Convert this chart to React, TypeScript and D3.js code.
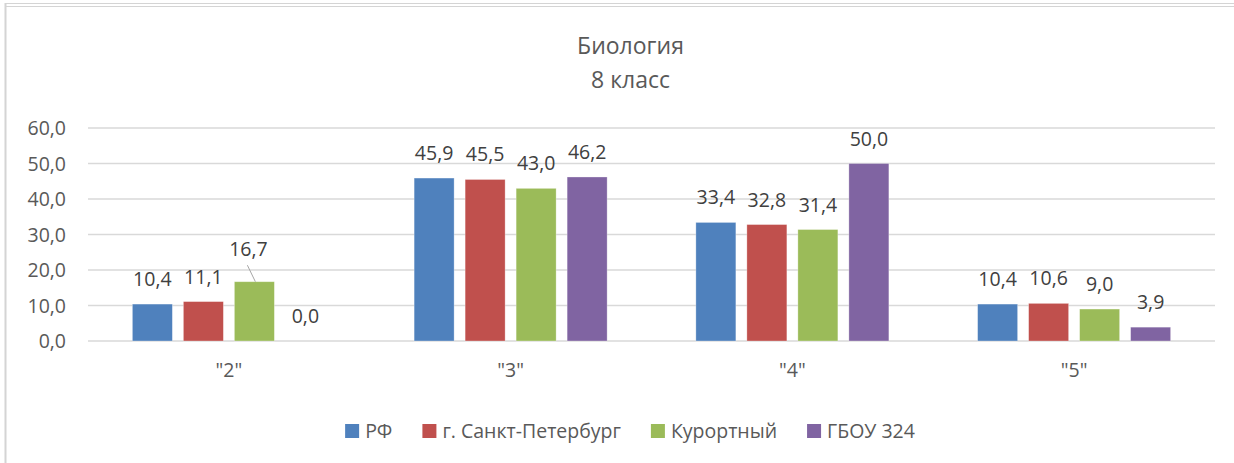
import React, { useEffect, useRef } from 'react';
import * as d3 from 'd3';

const categories = ['"2"', '"3"', '"4"', '"5"'];
const seriesNames = ['РФ', 'г. Санкт-Петербург', 'Курортный', 'ГБОУ 324'];
const seriesColors = ['#4F81BD', '#C0504D', '#9BBB59', '#8064A2'];
const rfValues = [10.4, 45.9, 33.4, 10.4];
const spbValues = [11.1, 45.5, 32.8, 10.6];
const kurortValues = [16.7, 43.0, 31.4, 9.0];
const schoolValues = [0.0, 46.2, 50.0, 3.9];
const yTicks = [0, 10, 20, 30, 40, 50, 60];
const titleLines = ['Биология', '8 класс'];

const allSeries = [rfValues, spbValues, kurortValues, schoolValues];
const fmt = (v: number) => v.toFixed(1).replace('.', ',');

const App = () => {
  const ref = useRef<SVGSVGElement>(null);

  useEffect(() => {
    document.body.style.margin = '0';
    const width = 1234, height = 463;
    const margin = { top: 128, right: 19, bottom: 122, left: 88 };
    const font = '"Open Sans", "Noto Sans", sans-serif';
    const textColor = '#595959';
    const fs = 19.5;

    const svg = d3.select(ref.current);
    svg.selectAll('*').remove();

    // frame lines of the surrounding sheet
    svg.append('rect').attr('x', 0).attr('y', 0).attr('width', width).attr('height', height).attr('fill', '#fff');
    svg.append('line').attr('x1', 5.5).attr('x2', width).attr('y1', 3.5).attr('y2', 3.5).attr('stroke', '#d4d4d4');
    svg.append('line').attr('x1', 5.5).attr('x2', width).attr('y1', 6.5).attr('y2', 6.5).attr('stroke', '#d4d4d4');
    svg.append('line').attr('x1', 5.5).attr('x2', 5.5).attr('y1', 3).attr('y2', height).attr('stroke', '#d4d4d4').attr('stroke-width', 2);

    const x0 = d3.scaleBand<string>()
      .domain(categories)
      .range([margin.left, width - margin.right]);
    const x1 = d3.scaleBand<string>()
      .domain(seriesNames)
      .range([0, x0.bandwidth()])
      .paddingInner(0.216)
      .paddingOuter(0.87);
    const y = d3.scaleLinear()
      .domain([0, 60])
      .range([height - margin.bottom, margin.top]);

    // title
    titleLines.forEach((t, i) => {
      svg.append('text')
        .attr('x', 630.5)
        .attr('y', 54 + i * 33.5)
        .attr('text-anchor', 'middle')
        .attr('font-family', font)
        .attr('font-size', 23)
        .attr('fill', textColor)
        .text(t);
    });

    // gridlines
    svg.append('g')
      .selectAll('line')
      .data(yTicks)
      .join('line')
      .attr('x1', margin.left)
      .attr('x2', width - margin.right)
      .attr('y1', d => y(d))
      .attr('y2', d => y(d))
      .attr('stroke', '#d9d9d9')
      .attr('stroke-width', 1.5);

    // y tick labels
    svg.append('g')
      .selectAll('text')
      .data(yTicks)
      .join('text')
      .attr('x', 66)
      .attr('y', d => y(d))
      .attr('dy', '0.36em')
      .attr('text-anchor', 'end')
      .attr('font-family', font)
      .attr('font-size', fs)
      .attr('fill', textColor)
      .text(d => fmt(d));

    // bars
    const groups = svg.append('g')
      .selectAll('g')
      .data(categories)
      .join('g')
      .attr('transform', d => `translate(${x0(d)},0)`);

    groups.selectAll('rect')
      .data((_, ci) => allSeries.map((vals, si) => ({ name: seriesNames[si], color: seriesColors[si], v: vals[ci] })))
      .join('rect')
      .attr('x', d => x1(d.name)!)
      .attr('width', x1.bandwidth())
      .attr('y', d => y(d.v))
      .attr('height', d => y(0) - y(d.v))
      .attr('fill', d => d.color)
      .attr('stroke', '#fff')
      .attr('stroke-opacity', 0.4)
      .attr('stroke-width', 0.75);

    // data labels
    groups.selectAll('text')
      .data((_, ci) => allSeries.map((vals, si) => ({ name: seriesNames[si], v: vals[ci], ci, si })))
      .join('text')
      .attr('x', d => x1(d.name)! + x1.bandwidth() / 2 + (d.ci === 0 && d.si === 2 ? -6 : 0))
      .attr('y', d => y(d.v) - (d.ci === 0 && d.si === 2 ? 25.5 : 18))
      .attr('text-anchor', 'middle')
      .attr('font-family', font)
      .attr('font-size', fs)
      .attr('fill', '#404040')
      .text(d => fmt(d.v));

    // leader line for the moved label
    const moved = groups.filter((_, i) => i === 0);
    moved.append('line')
      .attr('x1', x1(seriesNames[2])! + x1.bandwidth() / 2 - 7)
      .attr('y1', y(kurortValues[0]) - 16.5)
      .attr('x2', x1(seriesNames[2])! + x1.bandwidth() / 2 + 1)
      .attr('y2', y(kurortValues[0]))
      .attr('stroke', '#a6a6a6')
      .attr('stroke-width', 1);

    // category labels
    svg.append('g')
      .selectAll('text')
      .data(categories)
      .join('text')
      .attr('x', d => x0(d)! + x0.bandwidth() / 2)
      .attr('y', 377)
      .attr('text-anchor', 'middle')
      .attr('font-family', font)
      .attr('font-size', fs)
      .attr('fill', textColor)
      .text(d => d);

    // legend
    const legend = svg.append('g');
    let cx = 0;
    seriesNames.forEach((name, i) => {
      const item = legend.append('g').attr('transform', `translate(${cx},0)`);
      item.append('rect')
        .attr('x', 0).attr('y', -14).attr('width', 14).attr('height', 14)
        .attr('fill', seriesColors[i]);
      const t = item.append('text')
        .attr('x', 20)
        .attr('y', 0)
        .attr('font-family', font)
        .attr('font-size', fs)
        .attr('fill', textColor)
        .text(name);
      const w = (t.node() as SVGTextElement).getComputedTextLength();
      cx += 20 + w + 30;
    });
    const total = cx - 30;
    legend.attr('transform', `translate(${630 - total / 2},438)`);
  }, []);

  return <svg ref={ref} width={1234} height={463} style={{ display: 'block' }} />;
};

export default App;
